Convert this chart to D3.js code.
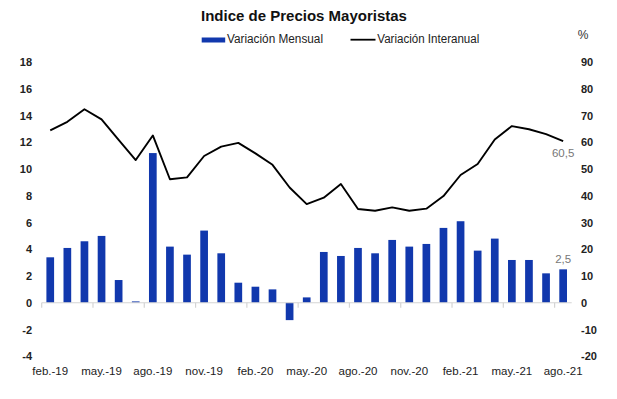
<!DOCTYPE html>
<html>
<head>
<meta charset="utf-8">
<script src="https://cdn.jsdelivr.net/npm/d3@7"></script>
<style>
  html, body { margin: 0; padding: 0; background: #fff; }
  svg { display: block; font-family: "Liberation Sans", Arial, sans-serif; }
</style>
</head>
<body>
<svg id="chart" width="617" height="399"></svg>
<script>
const months = ["feb.-19","mar.-19","abr.-19","may.-19","jun.-19","jul.-19","ago.-19","sep.-19","oct.-19","nov.-19","dic.-19",
  "ene.-20","feb.-20","mar.-20","abr.-20","may.-20","jun.-20","jul.-20","ago.-20","sep.-20","oct.-20","nov.-20","dic.-20",
  "ene.-21","feb.-21","mar.-21","abr.-21","may.-21","jun.-21","jul.-21","ago.-21"];
const mensual = [3.4, 4.1, 4.6, 5.0, 1.7, 0.1, 11.2, 4.2, 3.6, 5.4, 3.7,
  1.5, 1.2, 1.0, -1.3, 0.4, 3.8, 3.5, 4.1, 3.7, 4.7, 4.2, 4.4,
  5.6, 6.1, 3.9, 4.8, 3.2, 3.2, 2.2, 2.5];
const interanual = [64.5, 67.7, 72.4, 68.6, 60.9, 53.4, 62.6, 46.2, 46.9, 54.9, 58.4,
  59.8, 55.9, 51.6, 43.1, 36.9, 39.3, 44.4, 35.1, 34.4, 35.7, 34.4, 35.2,
  39.9, 47.8, 51.9, 61.1, 66.1, 64.9, 63.1, 60.5];
const leftTicks = [-4, -2, 0, 2, 4, 6, 8, 10, 12, 14, 16, 18];
const rightTicks = [-20, -10, 0, 10, 20, 30, 40, 50, 60, 70, 80, 90];
const xLabels = months.filter((d, i) => i % 3 === 0);
const title = "Indice de Precios Mayoristas";
const seriesNames = ["Variación Mensual", "Variación Interanual"];

const svg = d3.select("#chart");
const L = 41.7, R = 571.7, T = 62.2, B = 356.2;
const pad = 0.55;
const x = d3.scaleBand().domain(months).range([L, R]).paddingInner(pad).paddingOuter(pad / 2);
const yL = d3.scaleLinear().domain([-4, 18]).range([B, T]);
const yR = d3.scaleLinear().domain([-20, 90]).range([B, T]);
const step = x.step();
const cx = d => x(d) + x.bandwidth() / 2;
const plain = d => String(d);

// Title
svg.append("text").attr("x", 304).attr("y", 20.7).attr("text-anchor", "middle")
  .attr("font-size", 15).attr("font-weight", "bold").attr("fill", "#111").text(title);

// Legend
const lg = svg.append("g");
lg.append("rect").attr("x", 201.7).attr("y", 37.5).attr("width", 23.5).attr("height", 5).attr("fill", "#1138ad");
lg.append("text").attr("x", 227).attr("y", 42.7).attr("font-size", 12).attr("fill", "#222")
  .attr("textLength", 96).attr("lengthAdjust", "spacingAndGlyphs").text(seriesNames[0]);
lg.append("line").attr("x1", 350.5).attr("x2", 375.5).attr("y1", 39.7).attr("y2", 39.7)
  .attr("stroke", "#000").attr("stroke-width", 1.8);
lg.append("text").attr("x", 377.3).attr("y", 42.7).attr("font-size", 12).attr("fill", "#222")
  .attr("textLength", 102).attr("lengthAdjust", "spacingAndGlyphs").text(seriesNames[1]);
svg.append("text").attr("x", 583).attr("y", 39).attr("text-anchor", "middle")
  .attr("font-size", 12).attr("fill", "#333").text("%");

// Left axis
const gl = svg.append("g").attr("transform", `translate(${L},0)`)
  .call(d3.axisLeft(yL).tickValues(leftTicks).tickSize(0).tickPadding(9.7).tickFormat(plain));
gl.select(".domain").remove();
gl.selectAll("text").attr("font-size", 11).attr("font-weight", "bold").attr("fill", "#222")
  .attr("font-family", "Liberation Sans, Arial, sans-serif");

// Right axis
const gr = svg.append("g").attr("transform", `translate(${R},0)`)
  .call(d3.axisRight(yR).tickValues(rightTicks).tickSize(0).tickPadding(9.3).tickFormat(plain));
gr.select(".domain").remove();
gr.selectAll("text").attr("font-size", 11).attr("font-weight", "bold").attr("fill", "#222")
  .attr("font-family", "Liberation Sans, Arial, sans-serif");

// Bars
svg.append("g").selectAll("rect").data(months).join("rect")
  .attr("x", d => x(d))
  .attr("width", x.bandwidth())
  .attr("y", (d, i) => yL(Math.max(0, mensual[i])))
  .attr("height", (d, i) => Math.abs(yL(mensual[i]) - yL(0)))
  .attr("fill", "#1138ad");

// Zero axis line with ticks
const y0 = yL(0);
svg.append("line").attr("x1", L).attr("x2", R).attr("y1", y0).attr("y2", y0)
  .attr("stroke", "#d4d4d4").attr("stroke-width", 1.2);
svg.append("g").selectAll("line").data(months.filter((d, i) => i % 3 === 0)).join("line")
  .attr("x1", d => x(d) - step * pad / 2).attr("x2", d => x(d) - step * pad / 2)
  .attr("y1", y0).attr("y2", y0 + 5)
  .attr("stroke", "#d4d4d4").attr("stroke-width", 1.2);

// Line
const line = d3.line().x((d, i) => cx(months[i])).y(d => yR(d));
svg.append("path").datum(interanual).attr("d", line)
  .attr("fill", "none").attr("stroke", "#000").attr("stroke-width", 1.9).attr("stroke-linejoin", "round");

// X axis labels
const gx = svg.append("g").attr("transform", `translate(0,${B})`)
  .call(d3.axisBottom(x).tickValues(xLabels).tickSize(0).tickPadding(11));
gx.select(".domain").remove();
gx.selectAll("text").attr("font-size", 11.5).attr("fill", "#222")
  .attr("font-family", "Liberation Sans, Arial, sans-serif");

// Data labels
const fmt = v => d3.format(".1f")(v).replace(".", ",");
const last = months.length - 1;
svg.append("text").attr("x", cx(months[last])).attr("y", yR(interanual[last]) + 16)
  .attr("text-anchor", "middle").attr("font-size", 11.5).attr("fill", "#777").text(fmt(interanual[last]));
svg.append("text").attr("x", cx(months[last])).attr("y", yL(mensual[last]) - 6)
  .attr("text-anchor", "middle").attr("font-size", 11.5).attr("fill", "#777").text(fmt(mensual[last]));
</script>
</body>
</html>
